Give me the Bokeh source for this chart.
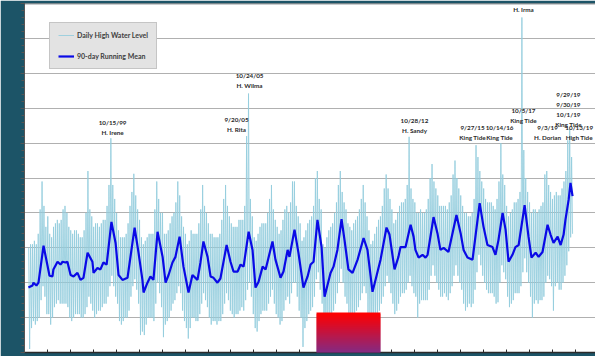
import numpy as np
from bokeh.plotting import figure
from bokeh.models import (ColumnDataSource, FixedTicker, Legend, LegendItem, Span,
                          BoxAnnotation, Range1d, CustomLabelingPolicy)
from bokeh.core.properties import value
from bokeh.embed import file_html
from bokeh.resources import INLINE

# ---------------- data (ft) ----------------
# Monthly envelope of the daily high water level, Mar 1996 .. Nov 2019
start_year, start_month = 1996, 3
daily_hi = [
    1.50, 1.55, 1.55, 1.60, 1.55, 1.70, 2.05, 2.45, 2.10, 1.80,                # 1996
    1.95, 1.70, 1.65, 1.80, 1.85, 1.90, 1.85, 1.90, 2.05, 2.10, 2.00, 1.80,    # 1997
    1.75, 1.70, 1.75, 1.75, 1.70, 1.65, 1.65, 1.75, 2.00, 2.60, 2.05, 1.95,    # 1998
    1.80, 1.85, 1.85, 1.80, 1.85, 1.90, 1.90, 2.10, 2.40, 3.07, 2.40, 2.20,    # 1999
    2.00, 1.75, 1.65, 1.65, 1.65, 1.70, 1.85, 2.10, 2.30, 2.56, 2.25, 2.05,    # 2000
    1.90, 1.65, 1.55, 1.60, 1.65, 1.70, 1.70, 1.70, 2.05, 2.45, 2.20, 2.00,    # 2001
    2.00, 1.70, 1.70, 1.75, 1.85, 1.95, 2.00, 2.15, 2.45, 2.25, 1.95, 1.80,    # 2002
    1.70, 1.55, 1.60, 1.75, 1.70, 1.70, 1.70, 1.85, 2.05, 2.40, 2.10, 2.00,    # 2003
    1.85, 1.70, 1.70, 1.65, 1.65, 1.65, 1.70, 1.90, 2.20, 2.40, 2.10, 1.95,    # 2004
    1.85, 1.80, 1.80, 1.80, 1.90, 1.90, 1.90, 2.10, 3.10, 3.71, 2.20, 1.95,    # 2005
    1.65, 1.60, 1.70, 1.80, 1.85, 1.85, 1.85, 2.00, 2.20, 2.40, 2.05, 1.90,    # 2006
    1.80, 1.70, 1.75, 1.90, 2.05, 2.10, 2.00, 2.15, 2.45, 2.45, 2.10, 1.95,    # 2007
    1.85, 1.60, 1.65, 1.75, 1.85, 1.90, 1.95, 2.10, 2.50, 2.60, 2.20, 2.05,    # 2008
    1.55, 1.50, 1.65, 1.75, 1.80, 1.85, 2.00, 2.15, 2.40, 2.60, 2.30, 2.15,    # 2009
    2.05, 1.85, 1.80, 1.75, 1.85, 1.90, 1.95, 2.05, 2.20, 2.40, 2.15, 1.95,    # 2010
    1.75, 1.55, 1.60, 1.70, 1.80, 1.90, 1.95, 2.10, 2.35, 2.55, 2.35, 2.20,    # 2011
    2.05, 1.85, 1.90, 2.00, 2.10, 2.15, 2.15, 2.20, 2.40, 3.09, 2.35, 2.20,    # 2012
    2.15, 2.00, 2.00, 2.05, 2.00, 2.00, 2.05, 2.20, 2.50, 2.70, 2.45, 2.35,    # 2013
    2.25, 2.10, 2.10, 2.10, 2.10, 2.05, 2.15, 2.25, 2.55, 2.75, 2.50, 2.35,    # 2014
    2.25, 2.10, 2.00, 2.00, 1.95, 1.95, 2.00, 2.20, 2.97, 2.80, 2.60, 2.45,    # 2015
    2.35, 2.20, 2.15, 2.15, 2.15, 2.10, 2.05, 2.20, 2.45, 3.00, 2.55, 2.40,    # 2016
    2.10, 1.95, 2.00, 2.05, 2.15, 2.15, 2.20, 2.30, 4.80, 2.90, 2.50, 2.30,    # 2017
    2.15, 2.00, 2.05, 2.05, 2.00, 2.05, 2.10, 2.15, 2.55, 2.60, 2.40, 2.30,    # 2018
    2.20, 2.25, 2.30, 2.25, 2.25, 2.35, 2.45, 2.60, 3.04, 3.20, 2.80,          # 2019
]
daily_lo = [
    0.05, 0.35, 0.45, 0.40, 0.45, 0.50, 0.75, 0.95, 0.80, 0.55,                # 1996
    0.55, 0.40, 0.50, 0.65, 0.70, 0.75, 0.70, 0.70, 0.70, 0.70, 0.65, 0.50,    # 1997
    0.45, 0.50, 0.55, 0.55, 0.55, 0.50, 0.50, 0.55, 0.65, 0.80, 0.70, 0.60,    # 1998
    0.50, 0.55, 0.60, 0.60, 0.65, 0.70, 0.70, 0.80, 0.95, 1.10, 0.95, 0.80,    # 1999
    0.70, 0.45, 0.40, 0.45, 0.50, 0.50, 0.60, 0.80, 0.95, 1.05, 0.90, 0.70,    # 2000
    0.25, 0.30, 0.25, 0.40, 0.50, 0.50, 0.50, 0.45, 0.70, 1.00, 0.85, 0.65,    # 2001
    0.22, 0.40, 0.45, 0.50, 0.60, 0.70, 0.75, 0.85, 0.95, 0.85, 0.60, 0.45,    # 2002
    0.35, 0.20, 0.35, 0.50, 0.50, 0.45, 0.45, 0.55, 0.70, 0.85, 0.75, 0.65,    # 2003
    0.50, 0.40, 0.45, 0.45, 0.40, 0.45, 0.45, 0.55, 0.70, 0.85, 0.75, 0.60,    # 2004
    0.55, 0.50, 0.55, 0.55, 0.60, 0.65, 0.60, 0.75, 0.90, 1.00, 0.80, 0.55,    # 2005
    0.35, 0.30, 0.45, 0.55, 0.60, 0.60, 0.60, 0.70, 0.80, 0.90, 0.70, 0.55,    # 2006
    0.50, 0.40, 0.45, 0.60, 0.75, 0.80, 0.70, 0.85, 1.00, 1.00, 0.80, 0.60,    # 2007
    0.50, 0.08, 0.35, 0.45, 0.55, 0.60, 0.65, 0.80, 1.05, 1.15, 0.90, 0.70,    # 2008
    0.20, 0.20, 0.35, 0.45, 0.55, 0.60, 0.70, 0.85, 1.00, 1.20, 1.00, 0.80,    # 2009
    0.70, 0.55, 0.50, 0.50, 0.55, 0.60, 0.65, 0.75, 0.85, 0.95, 0.85, 0.55,    # 2010
    0.45, 0.25, 0.35, 0.45, 0.55, 0.60, 0.70, 0.80, 0.95, 1.10, 1.00, 0.85,    # 2011
    0.70, 0.55, 0.60, 0.70, 0.80, 0.85, 0.85, 0.90, 1.00, 1.10, 0.95, 0.85,    # 2012
    0.80, 0.50, 0.70, 0.75, 0.75, 0.75, 0.75, 0.90, 1.10, 1.25, 1.10, 1.00,    # 2013
    0.90, 0.80, 0.80, 0.85, 0.80, 0.75, 0.85, 0.95, 1.10, 1.25, 1.10, 1.00,    # 2014
    0.90, 0.70, 0.60, 0.65, 0.70, 0.65, 0.70, 0.90, 1.15, 1.40, 1.25, 1.10,    # 2015
    1.00, 0.90, 0.85, 0.85, 0.85, 0.80, 0.70, 0.72, 1.00, 1.25, 1.15, 1.05,    # 2016
    0.80, 0.65, 0.70, 0.75, 0.85, 0.85, 0.85, 0.95, 1.15, 1.35, 1.15, 1.00,    # 2017
    0.80, 0.50, 0.70, 0.75, 0.70, 0.75, 0.75, 0.80, 1.00, 1.10, 1.05, 0.95,    # 2018
    0.60, 0.95, 1.00, 0.90, 0.90, 1.00, 1.10, 1.25, 1.45, 1.65, 1.70,          # 2019
]

# 90-day running mean (decimal year, ft)
mean_t = [
    1996.17, 1996.35, 1996.39, 1996.52, 1996.61, 1996.83,
    1997.09, 1997.22, 1997.26, 1997.44, 1997.57, 1997.66, 1997.79, 1997.87,
    1998.01, 1998.14, 1998.31, 1998.44, 1998.57, 1998.75, 1998.96,
    1999.01, 1999.18, 1999.31, 1999.44, 1999.58, 1999.79, 1999.97,
    2000.10, 2000.27, 2000.49, 2000.80, 2000.97,
    2001.14, 2001.19, 2001.36, 2001.49, 2001.62, 2001.80,
    2002.02, 2002.15, 2002.28, 2002.45, 2002.58, 2002.76, 2002.93,
    2003.15, 2003.32, 2003.54, 2003.67, 2003.80, 2003.98,
    2004.11, 2004.24, 2004.41, 2004.54, 2004.81, 2004.98,
    2005.11, 2005.29, 2005.42, 2005.55, 2005.77, 2005.94,
    2006.07, 2006.20, 2006.38, 2006.51, 2006.81, 2006.94,
    2007.16, 2007.29, 2007.47, 2007.55, 2007.77, 2007.94,
    2008.16, 2008.34, 2008.47, 2008.60, 2008.77, 2008.95,
    2009.08, 2009.34, 2009.47, 2009.64, 2009.82, 2009.95,
    2010.12, 2010.30, 2010.52, 2010.78, 2010.95,
    2011.17, 2011.30, 2011.52, 2011.78, 2011.91,
    2012.13, 2012.30, 2012.39, 2012.61, 2012.83, 2012.96,
    2013.04, 2013.18, 2013.35, 2013.48, 2013.57, 2013.83,
    2014.00, 2014.13, 2014.27, 2014.48, 2014.83,
    2015.01, 2015.14, 2015.31, 2015.53, 2015.84,
    2016.01, 2016.18, 2016.40, 2016.53, 2016.66, 2016.84, 2016.97,
    2017.10, 2017.27, 2017.40, 2017.54, 2017.80, 2017.97,
    2018.10, 2018.28, 2018.41, 2018.58, 2018.80, 2018.93,
    2019.06, 2019.24, 2019.37, 2019.50, 2019.58, 2019.72, 2019.80, 2019.89,
]
mean_v = [
    0.93, 0.96, 1.00, 0.96, 1.00, 1.53,
    1.10, 1.09, 1.19, 1.30, 1.26, 1.30, 1.29, 1.30,
    1.11, 1.09, 1.14, 1.04, 1.07, 1.43, 1.30,
    1.14, 1.21, 1.19, 1.29, 1.26, 1.87, 1.57,
    1.11, 1.04, 1.07, 1.79, 1.43,
    1.04, 0.86, 1.00, 1.09, 1.04, 1.73,
    1.37, 1.00, 1.11, 1.29, 1.37, 1.66, 1.23,
    0.86, 1.11, 1.04, 1.29, 1.59, 1.37,
    1.09, 1.07, 1.00, 1.06, 1.54, 1.30,
    1.16, 1.16, 1.26, 1.23, 1.73, 1.47,
    0.93, 1.01, 1.23, 1.19, 1.59, 1.33,
    1.07, 1.16, 1.47, 1.37, 1.76, 1.43,
    0.93, 1.09, 1.26, 1.30, 1.90, 1.51,
    0.80, 1.14, 1.23, 1.47, 1.91, 1.61,
    1.19, 1.14, 1.33, 1.64, 1.47,
    0.87, 1.04, 1.33, 1.79, 1.69,
    1.19, 1.37, 1.51, 1.51, 1.83, 1.66,
    1.47, 1.36, 1.40, 1.36, 1.40, 1.94,
    1.71, 1.47, 1.50, 1.44, 1.97,
    1.71, 1.47, 1.36, 1.33, 2.14,
    1.80, 1.54, 1.51, 1.40, 1.61, 2.00, 1.76,
    1.30, 1.40, 1.51, 1.54, 2.11, 1.66,
    1.36, 1.43, 1.37, 1.44, 1.83, 1.69,
    1.57, 1.66, 1.54, 1.69, 1.90, 2.19, 2.43, 2.24,
]

# event annotations (label position: decimal year, ft of the label's top)
event_t = [1999.84, 2005.24, 2005.81, 2013.00, 2015.53, 2016.71, 2017.75,
           2017.75, 2019.71, 2018.80, 2020.18]
event_v = [3.35, 3.39, 4.02, 3.37, 3.27, 3.27, 3.52, 4.96, 3.75, 3.27, 3.27]
event_text = ["10/15/99\nH. Irene", "9/20/05\nH. Rita", "10/24/05\nH. Wilma",
              "10/28/12\nH. Sandy", "9/27/15\nKing Tide", "10/14/16\nKing Tide",
              "10/5/17\nKing Tide", "H. Irma", "9/29/19\n9/30/19\n10/1/19\nKing Tide",
              "9/3/19\nH. Dorian", "10/13/19\nHigh Tide"]

year_ticks = list(range(1996, 2021))
level_ticks = [0.5 * i for i in range(11)]
level_minor = [0.1 * i for i in range(51)]

# ---------------- styling ----------------
TEAL = "#1c5467"
FONT = "Lato"

p = figure(width=595, height=356, output_backend="svg", toolbar_location=None,
           x_range=Range1d(1996.0, 2020.89), y_range=Range1d(0.0, 5.0),
           min_border_left=24, min_border_right=0, min_border_top=3,
           min_border_bottom=3, border_fill_color=TEAL,
           background_fill_color="white", outline_line_color=None)

# daily series drawn as a zig-zag between monthly highs and lows
dx, dy = [], []
for i, (h, l) in enumerate(zip(daily_hi, daily_lo)):
    t0 = start_year + (start_month - 1 + i) / 12.0
    dx += [t0 + 0.015, t0 + 0.057]
    dy += [h, l]
src_daily = ColumnDataSource(dict(x=dx, y=dy))
src_mean = ColumnDataSource(dict(x=mean_t, y=mean_v))

r_daily = p.line("x", "y", source=src_daily, line_color="#93cddd",
                 line_width=1, line_alpha=0.85)
r_mean = p.line("x", "y", source=src_mean, line_color="#0a0ae6", line_width=2.2)

p.text(x=event_t, y=event_v, text=event_text, text_font=value(FONT),
       text_font_style="bold", text_font_size="6.3px", text_align="center",
       text_baseline="top", text_color="#2a2a2a", text_line_height=1.45)

no_labels = CustomLabelingPolicy(code="""
for (const i of indices) { indices.unset(i) }
return indices
""")

# axes
p.xaxis.ticker = FixedTicker(ticks=year_ticks)
p.xaxis.major_label_policy = no_labels
p.xaxis.major_tick_in = 3
p.xaxis.major_tick_out = 0
p.xaxis.minor_tick_in = 0
p.xaxis.minor_tick_out = 0
p.xaxis.major_label_text_font_size = "1px"
p.xaxis.major_label_standoff = 0
p.xaxis.axis_line_color = "#2a2a2a"
p.xaxis.axis_line_width = 1.5
p.xaxis.major_tick_line_color = "#2a2a2a"
p.xgrid.visible = False

p.yaxis.ticker = FixedTicker(ticks=level_ticks, minor_ticks=level_minor)
p.yaxis.major_label_policy = no_labels
p.yaxis.major_tick_in = 0
p.yaxis.major_tick_out = 4
p.yaxis.minor_tick_in = 0
p.yaxis.minor_tick_out = 3
p.yaxis.major_label_text_font_size = "1px"
p.yaxis.major_label_standoff = 0
p.yaxis.axis_line_color = "#555555"
p.yaxis.major_tick_line_color = "#555555"
p.yaxis.minor_tick_line_color = "#555555"
p.ygrid.ticker = FixedTicker(ticks=level_ticks)
p.ygrid.grid_line_color = "#b0b0b0"
p.ygrid.grid_line_width = 1.2

p.add_layout(Span(location=5.0, dimension="width", line_color="#2e3a40",
                  line_width=1.5))

legend = Legend(items=[LegendItem(label="Daily High Water Level", renderers=[r_daily]),
                       LegendItem(label="90-day Running Mean", renderers=[r_mean])],
                location=(25, 283))
legend.background_fill_color = "#e3e3e3"
legend.background_fill_alpha = 1
legend.border_line_color = "#a8a8a8"
legend.label_text_font = FONT
legend.label_text_font_style = "bold"
legend.label_text_font_size = "7px"
legend.label_text_color = "#404040"
legend.glyph_width = 16
legend.glyph_height = 8
legend.label_height = 8
legend.spacing = 13
legend.padding = 8
legend.margin = 0
legend.label_standoff = 3
p.add_layout(legend)

# decorative gradient block overlapping the bottom of the slide
n_strips = 22
for k in range(n_strips):
    f = k / (n_strips - 1)
    col = "#%02x%02x%02x" % (int(255 - 133 * f), int(0 + 46 * f), int(0 + 142 * f))
    p.add_layout(BoxAnnotation(left=316, right=380, top=312 + 2 * k,
                               bottom=min(356, 315 + 2 * k),
                               left_units="canvas", right_units="canvas",
                               top_units="canvas", bottom_units="canvas",
                               fill_color=col, fill_alpha=1, line_color=None,
                               level="overlay"))

open("out.html", "w").write(file_html(p, INLINE))
